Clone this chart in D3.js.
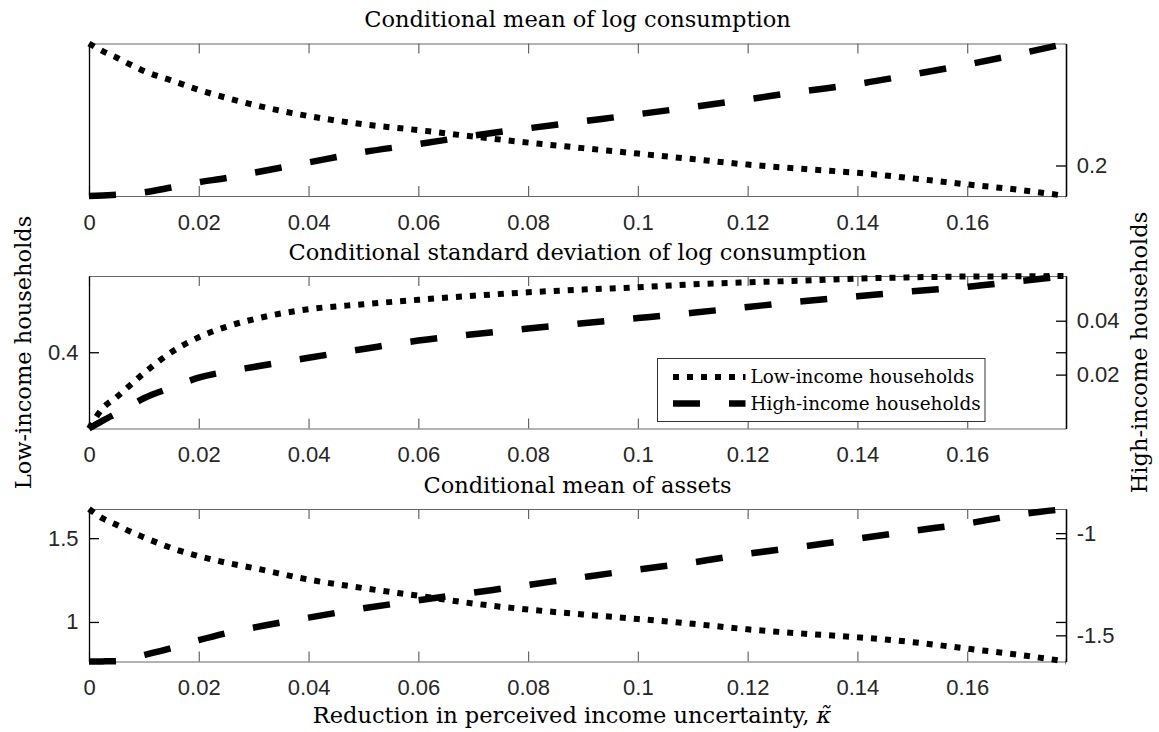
<!DOCTYPE html>
<html>
<head>
<meta charset="utf-8">
<script src="https://cdn.jsdelivr.net/npm/d3@7"></script>
<style>
  body { margin: 0; background: #fff; }
  .serif { font-family: "DejaVu Serif", serif; fill: #000; }
  .tick text { font-family: "Liberation Sans", Arial, sans-serif; font-size: 22px; fill: #262626; }
  .x-axis .domain, .x-axis .tick line { stroke: #666; stroke-width: 1.2; }
  .y-axis .domain, .y-axis .tick line { stroke: #000; stroke-width: 1.3; }
</style>
</head>
<body>
<svg id="chart" width="1159" height="732"></svg>
<script>
// reduction in perceived income uncertainty (x values)
const kappa = [0, 0.0025, 0.005, 0.0075, 0.01, 0.015, 0.02, 0.025, 0.03, 0.04, 0.05, 0.06,
  0.07, 0.08, 0.09, 0.1, 0.11, 0.12, 0.13, 0.14, 0.15, 0.16, 0.17, 0.178];
const kappaLim = [0, 0.178];
const xTicks = [0, 0.02, 0.04, 0.06, 0.08, 0.1, 0.12, 0.14, 0.16];

const titles = [
  'Conditional mean of log consumption',
  'Conditional standard deviation of log consumption',
  'Conditional mean of assets'
];
const seriesNames = ['Low-income households', 'High-income households'];

// panel 1: conditional mean of log consumption
const consMeanLow = [0.17, 0.1675, 0.1654, 0.1631, 0.161, 0.1579, 0.1548, 0.1522, 0.1499, 0.1462,
  0.1435, 0.1416, 0.1395, 0.1375, 0.1357, 0.1339, 0.1321, 0.1303, 0.1289, 0.1276, 0.1258, 0.1238,
  0.1219, 0.12];
const consMeanHigh = [0.19, 0.1902, 0.1904, 0.1907, 0.1912, 0.1928, 0.1945, 0.1959, 0.1976, 0.201,
  0.2044, 0.207, 0.2098, 0.2122, 0.2145, 0.2168, 0.2192, 0.2217, 0.2243, 0.2267, 0.2298, 0.2331,
  0.2368, 0.24];
const consMeanLowLim = [0.12, 0.17];
const consMeanHighLim = [0.19, 0.24];
const consMeanLowTicks = [];
const consMeanHighTicks = [0.2];

// panel 2: conditional standard deviation of log consumption
const consSdLow = [0.3, 0.3266, 0.341, 0.3568, 0.3725, 0.4, 0.4197, 0.4334, 0.4433, 0.4564, 0.4629,
  0.4688, 0.4741, 0.4786, 0.4822, 0.4852, 0.4891, 0.4917, 0.494, 0.4966, 0.4983, 0.4993, 0.4996, 0.5];
const consSdHigh = [0, 0.0029, 0.00567, 0.0085, 0.01124, 0.01513, 0.01884, 0.0211, 0.02285, 0.02626,
  0.02952, 0.03264, 0.03498, 0.03709, 0.03906, 0.04098, 0.04295, 0.0451, 0.04722, 0.04907, 0.05093,
  0.05259, 0.05482, 0.0566];
const consSdLowLim = [0.3, 0.5];
const consSdHighLim = [0, 0.0566];
const consSdLowTicks = [0.4];
const consSdHighTicks = [0.02, 0.04];

// panel 3: conditional mean of assets
const assetsLow = [1.674, 1.618, 1.5798, 1.5396, 1.5048, 1.4418, 1.3926, 1.3536, 1.3219, 1.2529,
  1.2019, 1.1563, 1.1101, 1.0741, 1.0447, 1.0177, 0.9889, 0.9559, 0.9307, 0.9085, 0.8797, 0.8407,
  0.8017, 0.764];
const assetsHigh = [-1.628, -1.6275, -1.6261, -1.6123, -1.5961, -1.5622, -1.5238, -1.4899, -1.4623,
  -1.4136, -1.3679, -1.3286, -1.2912, -1.2538, -1.2154, -1.1781, -1.1436, -1.1013, -1.0659, -1.0276,
  -0.9892, -0.9533, -0.9071, -0.882];
const assetsLowLim = [0.764, 1.674];
const assetsHighLim = [-1.628, -0.882];
const assetsLowTicks = [1, 1.5];
const assetsHighTicks = [-1.5, -1];

const panels = [
  { title: titles[0], low: consMeanLow, high: consMeanHigh, lowLim: consMeanLowLim, highLim: consMeanHighLim,
    lowTicks: consMeanLowTicks, highTicks: consMeanHighTicks },
  { title: titles[1], low: consSdLow, high: consSdHigh, lowLim: consSdLowLim, highLim: consSdHighLim,
    lowTicks: consSdLowTicks, highTicks: consSdHighTicks, legend: true },
  { title: titles[2], low: assetsLow, high: assetsHigh, lowLim: assetsLowLim, highLim: assetsHighLim,
    lowTicks: assetsLowTicks, highTicks: assetsHighTicks }
];

const svg = d3.select('#chart');
const left = 89;
const right = 1066;
const panelTop = [43.5, 276, 509];
const panelHeight = 152.5;
const styles = {
  low: { dash: '6,8', width: 6 },
  high: { dash: '27,29', width: 6.5 }
};

const xScale = d3.scaleLinear().domain(kappaLim).range([left, right]);
const fmt = v => String(+v.toFixed(3));

panels.forEach((p, i) => {
  const top = panelTop[i];
  const bottom = top + panelHeight;
  const yLow = d3.scaleLinear().domain(p.lowLim).range([bottom, top]);
  const yHigh = d3.scaleLinear().domain(p.highLim).range([bottom, top]);
  const g = svg.append('g');

  g.append('g').attr('class', 'x-axis')
    .attr('transform', `translate(0,${bottom})`)
    .call(d3.axisBottom(xScale).tickValues(xTicks).tickFormat(fmt).tickSizeInner(-10).tickSizeOuter(0).tickPadding(18));
  g.append('g').attr('class', 'x-axis')
    .attr('transform', `translate(0,${top})`)
    .call(d3.axisTop(xScale).tickValues(xTicks).tickFormat('').tickSizeInner(-10).tickSizeOuter(0));

  g.append('g').attr('class', 'y-axis')
    .attr('transform', `translate(${left},0)`)
    .call(d3.axisLeft(yLow).tickValues(p.lowTicks).tickFormat(fmt).tickSizeInner(-10).tickSizeOuter(0).tickPadding(10.5));
  // left ticks mirrored on the right edge (box)
  g.append('g').attr('class', 'y-axis')
    .attr('transform', `translate(${right},0)`)
    .call(d3.axisRight(yLow).tickValues(p.lowTicks).tickFormat('').tickSizeInner(-10).tickSizeOuter(0));
  g.append('g').attr('class', 'y-axis')
    .attr('transform', `translate(${right},0)`)
    .call(d3.axisRight(yHigh).tickValues(p.highTicks).tickFormat(fmt).tickSizeInner(-10).tickSizeOuter(0).tickPadding(10.7));

  g.append('text').attr('class', 'serif')
    .attr('x', (left + right) / 2).attr('y', top - 16.5)
    .attr('text-anchor', 'middle').attr('font-size', 22.5)
    .text(p.title);

  const lineLow = d3.line().x((d, j) => xScale(kappa[j])).y(d => yLow(d)).curve(d3.curveMonotoneX);
  const lineHigh = d3.line().x((d, j) => xScale(kappa[j])).y(d => yHigh(d)).curve(d3.curveMonotoneX);

  g.append('path').datum(p.low)
    .attr('d', lineLow).attr('fill', 'none').attr('stroke', '#000')
    .attr('stroke-width', styles.low.width).attr('stroke-dasharray', styles.low.dash);
  g.append('path').datum(p.high)
    .attr('d', lineHigh).attr('fill', 'none').attr('stroke', '#000')
    .attr('stroke-width', styles.high.width).attr('stroke-dasharray', styles.high.dash);

  if (p.legend) {
    const lg = g.append('g').attr('transform', 'translate(657.5,358.5)');
    lg.append('rect').attr('width', 327.5).attr('height', 63)
      .attr('fill', '#fff').attr('stroke', '#333').attr('stroke-width', 1);
    ['low', 'high'].forEach((key, k) => {
      const cy = 18.5 + k * 26.5;
      lg.append('line').attr('x1', 15.5).attr('x2', 88).attr('y1', cy).attr('y2', cy)
        .attr('stroke', '#000').attr('stroke-width', styles[key].width)
        .attr('stroke-dasharray', styles[key].dash);
      lg.append('text').attr('class', 'serif')
        .attr('x', 93).attr('y', cy).attr('dy', '0.35em')
        .attr('font-size', 18.4).text(seriesNames[k]);
    });
  }
});

const midY = (panelTop[0] + panelTop[2] + panelHeight) / 2;
svg.append('text').attr('class', 'serif')
  .attr('transform', `translate(31,${midY}) rotate(-90)`)
  .attr('text-anchor', 'middle').attr('font-size', 22.5)
  .text(seriesNames[0]);
svg.append('text').attr('class', 'serif')
  .attr('transform', `translate(1147,${midY}) rotate(-90)`)
  .attr('text-anchor', 'middle').attr('font-size', 22.5)
  .text(seriesNames[1]);

const xLabel = svg.append('text').attr('class', 'serif')
  .attr('x', 572).attr('y', 723)
  .attr('text-anchor', 'middle').attr('font-size', 22.5);
xLabel.append('tspan').text('Reduction in perceived income uncertainty, ');
xLabel.append('tspan').attr('font-style', 'italic').text('\u03BA\u0303');
</script>
</body>
</html>
